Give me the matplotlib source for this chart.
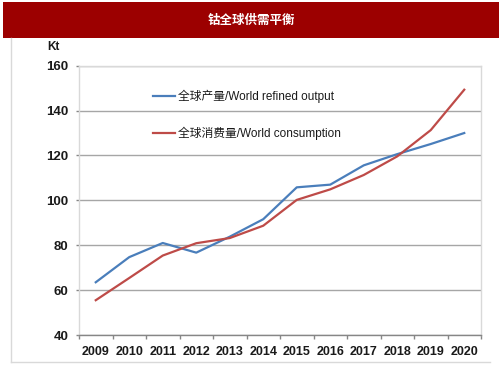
import matplotlib
matplotlib.use("Agg")
import matplotlib.pyplot as plt
from matplotlib.lines import Line2D
from matplotlib.patches import Rectangle
import numpy as np

title = "钴全球供需平衡"
unit_label = "Kt"
years = ["2009", "2010", "2011", "2012", "2013", "2014", "2015", "2016", "2017", "2018", "2019", "2020"]
output_label = "全球产量/World refined output"
consumption_label = "全球消费量/World consumption"
refined_output = [63.5, 74.7, 81.0, 76.7, 83.8, 91.6, 105.8, 107.0, 115.6, 120.6, 125.1, 130.0]
consumption = [55.5, 65.4, 75.4, 80.9, 83.2, 88.7, 100.2, 104.9, 111.3, 119.6, 131.3, 149.3]
y_ticks = [40, 60, 80, 100, 120, 140, 160]

W, H = 503, 378
fig = plt.figure(figsize=(W / 100, H / 100), dpi=100)
fig.patch.set_facecolor("white")

latin = ["Liberation Sans Narrow", "Liberation Sans", "Noto Sans CJK SC", "DejaVu Sans"]
cjk = ["Noto Sans CJK SC", "DejaVu Sans"]

# banner
fig.add_artist(Rectangle((3 / W, 1 - 38 / H), 496 / W, 36 / H, transform=fig.transFigure,
                         facecolor="#9c0000", edgecolor="none"))
fig.text(251 / W, 1 - 20 / H, title, color="white", fontsize=9, fontweight="bold",
         family=cjk, ha="center", va="center")

# outer frame lines
fig.add_artist(Line2D([11 / W, 11 / W], [1 - 38 / H, 1 - 362 / H], transform=fig.transFigure,
                      color="#d9d9d9", lw=1))
fig.add_artist(Line2D([11 / W, 490 / W], [1 - 362 / H, 1 - 362 / H], transform=fig.transFigure,
                      color="#d9d9d9", lw=1))

ax = fig.add_axes([79 / W, 1 - 335 / H, (481 - 79) / W, (335 - 65.7) / H])
x = np.arange(len(years))
ax.plot(x, refined_output, color="#4a7ebb", lw=1.6, label=output_label)
ax.plot(x, consumption, color="#be4b48", lw=1.6, label=consumption_label)

ax.set_xlim(-0.5, len(years) - 0.5)
ax.set_ylim(40, 160)
ax.set_yticks(y_ticks)
ax.set_xticks(x)
ax.set_xticklabels(years)
ax.set_xticks(np.arange(-0.5, len(years)), minor=True)
ax.tick_params(axis="x", which="major", length=0, pad=8)
ax.tick_params(axis="x", which="minor", length=3, color="#868686", width=1)
ax.tick_params(axis="y", length=2.5, color="#868686", width=1, pad=5)
for lab in ax.get_xticklabels():
    lab.set_family(latin)
    lab.set_fontweight("bold")
    lab.set_fontsize(9)
    lab.set_color("#1a1a1a")
for lab in ax.get_yticklabels():
    lab.set_family(latin)
    lab.set_fontweight("bold")
    lab.set_fontsize(9.5)
    lab.set_color("#1a1a1a")

ax.yaxis.grid(True, color="#a6a6a6", lw=1)
ax.set_axisbelow(True)
for s in ["left", "right", "top"]:
    ax.spines[s].set_color("#d9d9d9")
    ax.spines[s].set_linewidth(1)
ax.spines["bottom"].set_color("#868686")
ax.spines["bottom"].set_linewidth(1)

fig.text(47 / W, 1 - 47 / H, unit_label, fontsize=8.5, fontweight="bold", family=latin,
         color="#1a1a1a", ha="left", va="center")

leg = ax.legend(loc="upper left", bbox_to_anchor=(0.184, 0.91), frameon=False,
                prop={"family": latin, "size": 8.5}, handlelength=1.9, handletextpad=0.25,
                labelspacing=2.0, borderpad=0, borderaxespad=0)
for t in leg.get_texts():
    t.set_color("#1a1a1a")

fig.savefig("out.png", dpi=100)
